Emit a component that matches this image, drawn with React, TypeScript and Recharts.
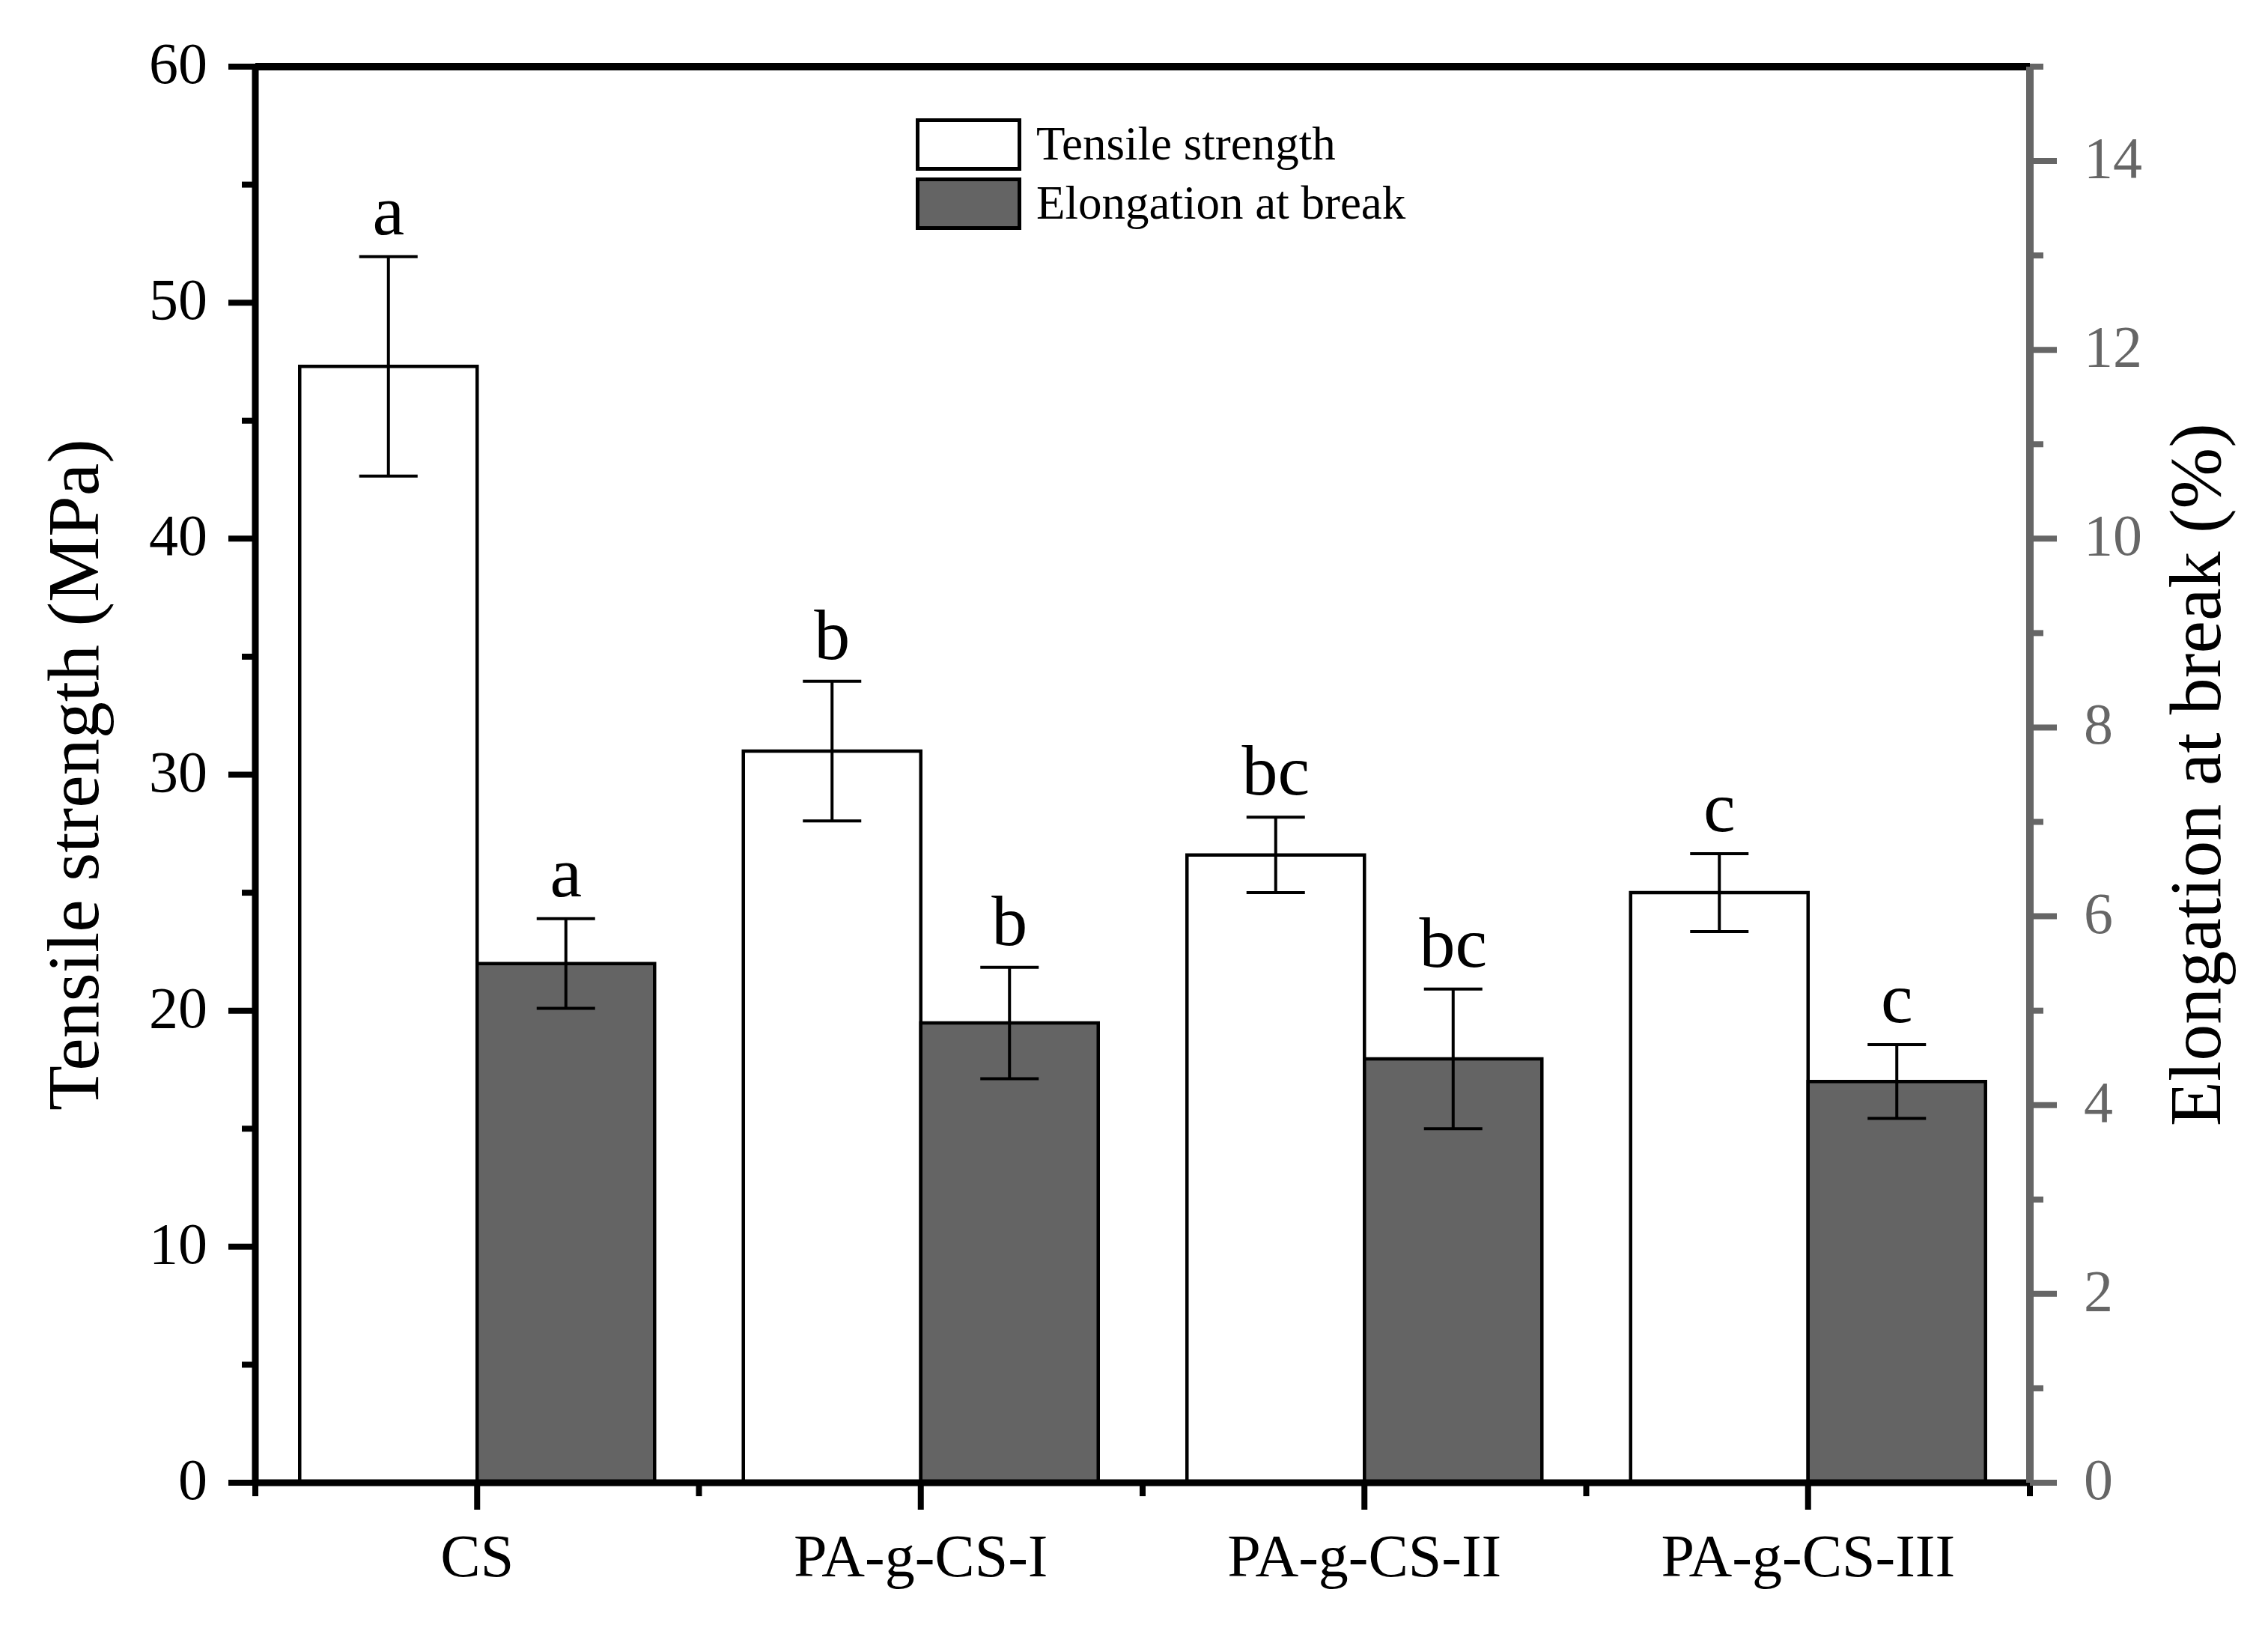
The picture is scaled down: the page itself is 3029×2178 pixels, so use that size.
import React from "react"
import { Bar, BarChart, ErrorBar, LabelList, Legend, ReferenceLine, XAxis, YAxis } from "recharts"

const categories = ["CS", "PA-g-CS-I", "PA-g-CS-II", "PA-g-CS-III"]
const tensile = [47.3, 31.0, 26.6, 25.0]
const tensileSd = [4.65, 2.96, 1.6, 1.65]
const tensileLetters = ["a", "b", "bc", "c"]
const elongation = [5.5, 4.87, 4.49, 4.25]
const elongationSd = [0.475, 0.59, 0.74, 0.39]
const elongationLetters = ["a", "b", "bc", "c"]
const seriesNames = ["Tensile strength", "Elongation at break"]
const leftTicks = [0, 5, 10, 15, 20, 25, 30, 35, 40, 45, 50, 55, 60]
const rightTicks = [0, 1, 2, 3, 4, 5, 6, 7, 8, 9, 10, 11, 12, 13, 14, 15]

const data = categories.map((name, i) => ({
  name,
  ts: tensile[i],
  tsErr: tensileSd[i],
  tsLetter: tensileLetters[i],
  eb: elongation[i],
  ebErr: elongationSd[i],
  ebLetter: elongationLetters[i],
}))

const FONT = '"Liberation Serif", "Times New Roman", serif'
const GREY = "#666666"

function LeftTick(props: any) {
  const { x, y, payload } = props
  const major = payload.value % 10 === 0
  return (
    <g>
      <line x1={x} x2={x - (major ? 36 : 18)} y1={y} y2={y} stroke="#000" strokeWidth={8} />
      {major && (
        <text x={x - 64} y={y + 22} textAnchor="end" fontSize={78} fontFamily={FONT} fill="#000">
          {payload.value}
        </text>
      )}
    </g>
  )
}

function RightTick(props: any) {
  const { x, y, payload } = props
  const major = payload.value % 2 === 0
  return (
    <g>
      <line x1={x} x2={x + (major ? 36 : 18)} y1={y} y2={y} stroke={GREY} strokeWidth={8} />
      {major && payload.value < 15 && (
        <text x={x + 72} y={y + 22} textAnchor="start" fontSize={78} fontFamily={FONT} fill={GREY}>
          {payload.value}
        </text>
      )}
    </g>
  )
}

function BottomTick(props: any) {
  const { x, y, payload, index, visibleTicksCount, width } = props
  const half = payload.offset ?? width / visibleTicksCount / 2
  return (
    <g>
      <line x1={x} x2={x} y1={y} y2={y + 36} stroke="#000" strokeWidth={8} />
      <line x1={x - half} x2={x - half} y1={y} y2={y + 18} stroke="#000" strokeWidth={8} />
      {index === visibleTicksCount - 1 && (
        <line x1={x + half} x2={x + half} y1={y} y2={y + 18} stroke="#000" strokeWidth={8} />
      )}
      <text x={x} y={y + 125} textAnchor="middle" fontSize={80} fontFamily={FONT} fill="#000">
        {payload.value}
      </text>
    </g>
  )
}

const letterLabel = (means: number[], sds: number[]) => (props: any) => {
  const vb = props.viewBox ?? props
  const { x, y, width, height } = vb
  const i = props.index
  const top = y - (sds[i] * height) / means[i]
  return (
    <text x={x + width / 2} y={top - 30} textAnchor="middle" fontSize={96} fontFamily={FONT} fill="#000">
      {props.value}
    </text>
  )
}

const axisTitle = (text: string, dx: number) => (props: any) => {
  const vb = props.viewBox
  const cx = vb.x + dx
  const cy = vb.y + vb.height / 2
  return (
    <text
      x={cx}
      y={cy}
      transform={`rotate(-90, ${cx}, ${cy})`}
      textAnchor="middle"
      fontSize={98}
      fontFamily={FONT}
      fill="#000"
    >
      {text}
    </text>
  )
}

function LegendBox(props: any) {
  const items = [...(props.payload || [])].sort(
    (a: any, b: any) => seriesNames.indexOf(a.value) - seriesNames.indexOf(b.value)
  )
  return (
    <div style={{ fontFamily: FONT, fontSize: 63, color: "#000" }}>
      {items.map((entry: any) => (
        <div key={entry.value} style={{ display: "flex", alignItems: "flex-start", height: 79 }}>
          <div
            style={{
              width: 141,
              height: 70,
              boxSizing: "border-box",
              border: "5px solid #000",
              background: entry.color,
            }}
          />
          <span style={{ marginLeft: 20, lineHeight: "79px", position: "relative", top: -5 }}>{entry.value}</span>
        </div>
      ))}
    </div>
  )
}

export default function App() {
  return (
    <div style={{ position: "absolute", left: 0, top: 0, background: "#fff" }}>
      <BarChart
        width={3029}
        height={2178}
        data={data}
        margin={{ top: 89, right: 0, bottom: 0, left: 0 }}
        barCategoryGap="10%"
        barGap={0}
      >
        <XAxis
          dataKey="name"
          height={198}
          interval={0}
          tickSize={0}
          tickMargin={0}
          tickLine={false}
          axisLine={{ stroke: "#000", strokeWidth: 9 }}
          tick={(p: any) => <BottomTick {...p} />}
        />
        <YAxis
          yAxisId="left"
          orientation="left"
          width={341}
          domain={[0, 60]}
          ticks={leftTicks}
          interval={0}
          tickSize={0}
          tickMargin={0}
          tickLine={false}
          axisLine={{ stroke: "#000", strokeWidth: 9 }}
          tick={(p: any) => <LeftTick {...p} />}
          label={axisTitle("Tensile strength (MPa)", 131)}
        />
        <YAxis
          yAxisId="right"
          orientation="right"
          width={318}
          domain={[0, 15]}
          ticks={rightTicks}
          interval={0}
          tickSize={0}
          tickMargin={0}
          tickLine={false}
          axisLine={{ stroke: GREY, strokeWidth: 10 }}
          tick={(p: any) => <RightTick {...p} />}
          label={axisTitle("Elongation at break (%)", 254)}
        />
        <ReferenceLine yAxisId="left" y={60} stroke="#000" strokeWidth={10} />
        <Legend
          verticalAlign="middle"
          align="center"
          content={(p: any) => <LegendBox {...p} />}
          wrapperStyle={{ left: 1223, top: 158, width: "auto", height: "auto" }}
        />
        <Bar
          yAxisId="left"
          dataKey="ts"
          name={seriesNames[0]}
          fill="#ffffff"
          stroke="#000"
          strokeWidth={4.5}
          isAnimationActive={false}
        >
          <ErrorBar dataKey="tsErr" width={39} strokeWidth={4} stroke="#000" direction="y" />
          <LabelList dataKey="tsLetter" content={letterLabel(tensile, tensileSd)} />
        </Bar>
        <Bar
          yAxisId="right"
          dataKey="eb"
          name={seriesNames[1]}
          fill="#646464"
          stroke="#000"
          strokeWidth={4.5}
          isAnimationActive={false}
        >
          <ErrorBar dataKey="ebErr" width={39} strokeWidth={4} stroke="#000" direction="y" />
          <LabelList dataKey="ebLetter" content={letterLabel(elongation, elongationSd)} />
        </Bar>
      </BarChart>
    </div>
  )
}
